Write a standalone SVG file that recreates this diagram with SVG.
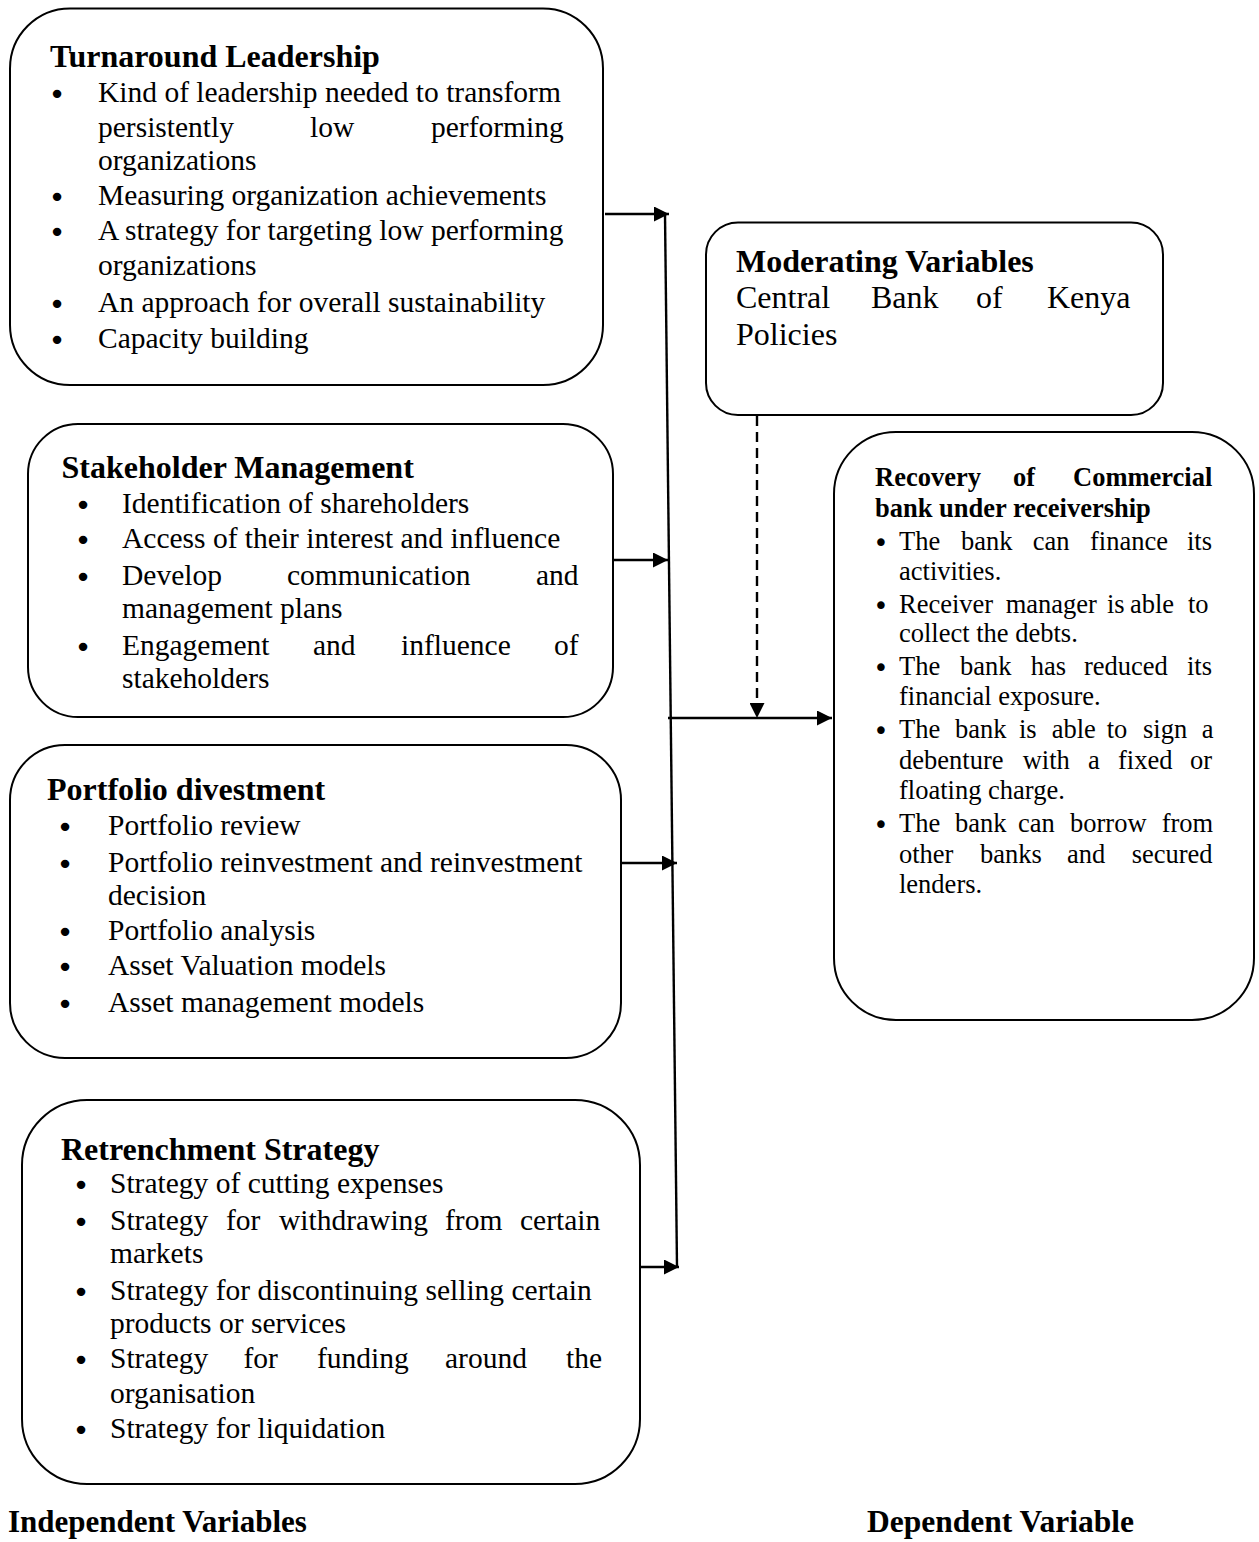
<svg xmlns="http://www.w3.org/2000/svg" width="1259" height="1542" viewBox="0 0 1259 1542">
<style>
.box{fill:none;stroke:#000;stroke-width:2}
text{font-family:"Liberation Serif","Times New Roman",serif;fill:#000}
.h{font-weight:bold;font-size:32px}
.p{font-size:29.5px}
.m{font-size:32px}
.r{font-size:26.5px}
.rh{font-size:26.5px;font-weight:bold}
.bl{font-family:"DejaVu Sans",sans-serif;font-size:29px;text-anchor:middle}
.bs{font-family:"DejaVu Sans",sans-serif;font-size:26px;text-anchor:middle}
.ln{stroke:#000;stroke-width:2.4;fill:none}
.dash{stroke:#000;stroke-width:2.4;fill:none;stroke-dasharray:10 6}
</style>
<defs>
<marker id="ah" viewBox="0 0 15 15" refX="15" refY="7.5" markerWidth="15" markerHeight="15" markerUnits="userSpaceOnUse" orient="auto">
<path d="M0,0 L15,7.5 L0,15 z" fill="#000"/>
</marker>
</defs>
<rect width="1259" height="1542" fill="#fff"/>

<g id="turnaround">
<rect class="box" x="10" y="8.5" width="593" height="376.5" rx="60" ry="60"/>
<text class="h" x="50" y="66.5">Turnaround Leadership</text>
<text class="bl" x="57" y="104">•</text>
<text class="p" x="98" y="101.7">Kind of leadership needed to transform</text>
<text class="p" y="136.7"><tspan x="98">persistently</tspan><tspan x="310">low</tspan><tspan x="431">performing</tspan></text>
<text class="p" x="98" y="170">organizations</text>
<text class="bl" x="57" y="207">•</text>
<text class="p" x="98" y="205">Measuring organization achievements</text>
<text class="bl" x="57" y="242">•</text>
<text class="p" x="98" y="240">A strategy for targeting low performing</text>
<text class="p" x="98" y="275">organizations</text>
<text class="bl" x="57" y="314">•</text>
<text class="p" x="98" y="311.7">An approach for overall sustainability</text>
<text class="bl" x="57" y="350">•</text>
<text class="p" x="98" y="348">Capacity building</text>
</g>

<g id="stakeholder">
<rect class="box" x="28" y="424" width="585" height="293" rx="50" ry="50"/>
<text class="h" x="61.5" y="478">Stakeholder Management</text>
<text class="bl" x="83" y="515">•</text>
<text class="p" x="122" y="513">Identification of shareholders</text>
<text class="bl" x="83" y="550">•</text>
<text class="p" x="122" y="548">Access of their interest and influence</text>
<text class="bl" x="83" y="587">•</text>
<text class="p" y="585"><tspan x="122">Develop</tspan><tspan x="287">communication</tspan><tspan x="536">and</tspan></text>
<text class="p" x="122" y="618">management plans</text>
<text class="bl" x="83" y="657">•</text>
<text class="p" y="655"><tspan x="122">Engagement</tspan><tspan x="313">and</tspan><tspan x="401">influence</tspan><tspan x="554">of</tspan></text>
<text class="p" x="122" y="688">stakeholders</text>
</g>

<g id="portfolio">
<rect class="box" x="10" y="745" width="611" height="313" rx="55" ry="55"/>
<text class="h" x="47" y="800">Portfolio divestment</text>
<text class="bl" x="65" y="837">•</text>
<text class="p" x="108" y="835">Portfolio review</text>
<text class="bl" x="65" y="874">•</text>
<text class="p" x="108" y="871.7">Portfolio reinvestment and reinvestment</text>
<text class="p" x="108" y="905">decision</text>
<text class="bl" x="65" y="942">•</text>
<text class="p" x="108" y="940">Portfolio analysis</text>
<text class="bl" x="65" y="977">•</text>
<text class="p" x="108" y="975">Asset Valuation models</text>
<text class="bl" x="65" y="1014">•</text>
<text class="p" x="108" y="1011.7">Asset management models</text>
</g>

<g id="retrenchment">
<rect class="box" x="22" y="1100" width="618" height="384" rx="65" ry="65"/>
<text class="h" x="61" y="1160">Retrenchment Strategy</text>
<text class="bl" x="81" y="1195">•</text>
<text class="p" x="110" y="1193">Strategy of cutting expenses</text>
<text class="bl" x="81" y="1232">•</text>
<text class="p" y="1230"><tspan x="110">Strategy</tspan><tspan x="226">for</tspan><tspan x="279">withdrawing</tspan><tspan x="445">from</tspan><tspan x="520">certain</tspan></text>
<text class="p" x="110" y="1263">markets</text>
<text class="bl" x="81" y="1302">•</text>
<text class="p" x="110" y="1300">Strategy for discontinuing selling certain</text>
<text class="p" x="110" y="1333">products or services</text>
<text class="bl" x="81" y="1370">•</text>
<text class="p" y="1368"><tspan x="110">Strategy</tspan><tspan x="243.5">for</tspan><tspan x="317">funding</tspan><tspan x="445">around</tspan><tspan x="566">the</tspan></text>
<text class="p" x="110" y="1403">organisation</text>
<text class="bl" x="81" y="1440">•</text>
<text class="p" x="110" y="1438">Strategy for liquidation</text>
</g>

<g id="moderating">
<rect class="box" x="706" y="222.5" width="457" height="192.5" rx="32" ry="32"/>
<text class="h" x="736" y="272">Moderating Variables</text>
<text class="m" y="308"><tspan x="736">Central</tspan><tspan x="871">Bank</tspan><tspan x="976">of</tspan><tspan x="1047">Kenya</tspan></text>
<text class="m" x="736" y="345">Policies</text>
</g>

<g id="recovery">
<rect class="box" x="834" y="432" width="420" height="588" rx="62" ry="62"/>
<text class="rh" y="486"><tspan x="875">Recovery</tspan><tspan x="1013">of</tspan><tspan x="1073">Commercial</tspan></text>
<text class="rh" x="875" y="516.5">bank under receivership</text>
<text class="bs" x="881" y="552">•</text>
<text class="r" y="550"><tspan x="899">The</tspan><tspan x="961">bank</tspan><tspan x="1032.7">can</tspan><tspan x="1090">finance</tspan><tspan x="1187">its</tspan></text>
<text class="r" x="899" y="580">activities.</text>
<text class="bs" x="881" y="615">•</text>
<text class="r" y="613"><tspan x="899">Receiver</tspan><tspan x="1005.7">manager</tspan><tspan x="1107">is</tspan><tspan x="1130">able</tspan><tspan x="1188">to</tspan></text>
<text class="r" x="899" y="641.5">collect the debts.</text>
<text class="bs" x="881" y="677">•</text>
<text class="r" y="675"><tspan x="899">The</tspan><tspan x="960">bank</tspan><tspan x="1030.7">has</tspan><tspan x="1084">reduced</tspan><tspan x="1187">its</tspan></text>
<text class="r" x="899" y="705">financial exposure.</text>
<text class="bs" x="881" y="740">•</text>
<text class="r" y="738"><tspan x="899">The</tspan><tspan x="955">bank</tspan><tspan x="1019">is</tspan><tspan x="1051.7">able</tspan><tspan x="1106.7">to</tspan><tspan x="1143">sign</tspan><tspan x="1201.7">a</tspan></text>
<text class="r" y="769"><tspan x="899">debenture</tspan><tspan x="1022.7">with</tspan><tspan x="1088">a</tspan><tspan x="1118">fixed</tspan><tspan x="1190">or</tspan></text>
<text class="r" x="899" y="799">floating charge.</text>
<text class="bs" x="881" y="833.5">•</text>
<text class="r" y="831.5"><tspan x="899">The</tspan><tspan x="955">bank</tspan><tspan x="1018">can</tspan><tspan x="1070">borrow</tspan><tspan x="1161.7">from</tspan></text>
<text class="r" y="862.5"><tspan x="899">other</tspan><tspan x="980">banks</tspan><tspan x="1067">and</tspan><tspan x="1131.7">secured</tspan></text>
<text class="r" x="899" y="893">lenders.</text>
</g>

<g id="connectors">
<line class="ln" x1="665" y1="214" x2="677" y2="1267"/>
<line class="ln" x1="605" y1="214" x2="669" y2="214" marker-end="url(#ah)"/>
<line class="ln" x1="614" y1="560" x2="668" y2="560" marker-end="url(#ah)"/>
<line class="ln" x1="622" y1="863" x2="677" y2="863" marker-end="url(#ah)"/>
<line class="ln" x1="641" y1="1267" x2="679" y2="1267" marker-end="url(#ah)"/>
<line class="ln" x1="668" y1="718" x2="832" y2="718" marker-end="url(#ah)"/>
<line class="dash" x1="757" y1="416" x2="757" y2="718" marker-end="url(#ah)"/>
</g>

<g id="labels">
<text class="h" x="8" y="1532" style="font-size:31px">Independent Variables</text>
<text class="h" x="867" y="1532" style="font-size:31.5px">Dependent Variable</text>
</g>
</svg>
